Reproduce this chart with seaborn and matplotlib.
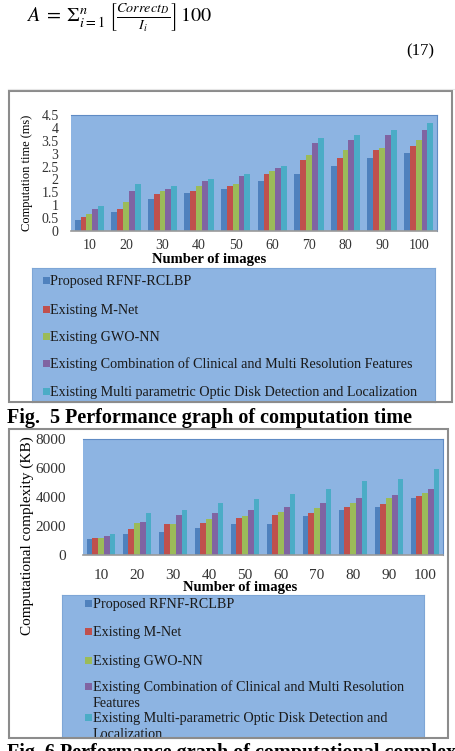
import pandas as pd
import seaborn as sns
import matplotlib
import matplotlib.pyplot as plt
from matplotlib.patches import Rectangle
from matplotlib.lines import Line2D
from matplotlib.ticker import FuncFormatter

matplotlib.use('agg')

# ---- data ----
images = ['10', '20', '30', '40', '50', '60', '70', '80', '90', '100']

methods_time = [
    'Proposed RFNF-RCLBP',
    'Existing M-Net',
    'Existing GWO-NN',
    'Existing Combination of Clinical and Multi Resolution Features',
    'Existing Multi parametric Optic Disk Detection and Localization',
]
methods_cplx = [
    'Proposed RFNF-RCLBP',
    'Existing M-Net',
    'Existing GWO-NN',
    'Existing Combination of Clinical and Multi Resolution\nFeatures',
    'Existing Multi-parametric Optic Disk Detection and\nLocalization',
]

# computation time (ms)
time_rfnf = [0.43, 0.74, 1.26, 1.49, 1.63, 1.95, 2.22, 2.53, 2.84, 3.04]
time_mnet = [0.54, 0.86, 1.44, 1.57, 1.74, 2.22, 2.74, 2.84, 3.13, 3.31]
time_gwo = [0.65, 1.12, 1.57, 1.74, 1.83, 2.33, 2.96, 3.13, 3.23, 3.53]
time_clin = [0.86, 1.56, 1.63, 1.95, 2.14, 2.45, 3.42, 3.53, 3.74, 3.92]
time_optic = [0.97, 1.82, 1.74, 2.02, 2.20, 2.53, 3.61, 3.74, 3.93, 4.20]

# computational complexity (KB)
cplx_rfnf = [1070, 1420, 1610, 1840, 2120, 2170, 2680, 3100, 3290, 3920]
cplx_mnet = [1140, 1770, 2120, 2190, 2540, 2730, 2870, 3290, 3520, 4080]
cplx_gwo = [1190, 2190, 2150, 2450, 2700, 2980, 3220, 3570, 3920, 4290]
cplx_clin = [1280, 2260, 2730, 2870, 3100, 3290, 3570, 3920, 4130, 4550]
cplx_optic = [1420, 2890, 3100, 3590, 3850, 4220, 4550, 5130, 5250, 5900]

colors = ['#4F81BD', '#C0504D', '#9BBB59', '#8064A2', '#4BACC6']
bg = '#8DB4E2'

plt.rcParams['font.family'] = ['Liberation Serif', 'DejaVu Serif']
plt.rcParams['mathtext.fontset'] = 'stix'

W, H = 455, 751


def fx(px):
    return px / W


def fy(py):
    return 1 - py / H


def to_long(series, names):
    rows = []
    for name, vals in zip(names, series):
        for img, v in zip(images, vals):
            rows.append({'Images': img, 'Method': name, 'Value': v})
    return pd.DataFrame(rows)


def draw_bars(ax, df, names, ymax, yticks, ticksize, xpad, ypad):
    sns.barplot(data=df, x='Images', y='Value', hue='Method', hue_order=names,
                order=images, palette=colors, saturation=1, width=0.8,
                linewidth=0, legend=False, ax=ax)
    ax.set_facecolor(bg)
    ax.set_ylim(0, ymax)
    ax.set_yticks(yticks)
    ax.yaxis.set_major_formatter(FuncFormatter(lambda v, p: f'{v:g}'))
    ax.set_xlabel('')
    ax.set_ylabel('')
    ax.tick_params(length=0, labelsize=ticksize, colors='#333333')
    ax.tick_params(axis='x', pad=xpad)
    ax.tick_params(axis='y', pad=ypad)
    for s in ['top', 'right']:
        ax.spines[s].set_color('#5f8bc4')
        ax.spines[s].set_linewidth(0.8)
    ax.spines['left'].set_visible(False)
    ax.spines['bottom'].set_color('#9a9a9a')
    ax.spines['bottom'].set_linewidth(1.2)


def draw_legend(box, names, rows, sq_x, txt_x, fontsize, line_px):
    # box = (left, top, right, bottom) in pixels; rows = entry centres in pixels
    left, top, right, bottom = box
    ax = fig.add_axes([fx(left), fy(bottom), fx(right) - fx(left), fy(top) - fy(bottom)])
    ax.set_facecolor(bg)
    ax.set_xticks([])
    ax.set_yticks([])
    for s in ax.spines.values():
        s.set_color('#7ea6d6')
        s.set_linewidth(0.8)
    bw, bh = right - left, bottom - top
    fs_px = fontsize * 100 / 72
    for name, c, r in zip(names, colors, rows):
        ax.add_patch(Rectangle(((sq_x - left) / bw, 1 - (r + 3.5 - top) / bh),
                               7 / bw, 7 / bh, transform=ax.transAxes, color=c, lw=0))
        for i, line in enumerate(name.split('\n')):
            base = r + 0.33 * fs_px + i * line_px
            ax.text((txt_x - left) / bw, 1 - (base - top) / bh, line,
                    transform=ax.transAxes, va='baseline', ha='left',
                    fontsize=fontsize, color='#1a1a1a')
    return ax


fig = plt.figure(figsize=(W / 100, H / 100), dpi=100)

# equation (17)
fig.text(fx(26), fy(18),
         r'$A\;=\;\Sigma_{i=1}^{n}\;\left[\frac{Correct_D}{I_i}\right]\,100$',
         fontsize=14.5, va='center', ha='left')
fig.text(fx(406), fy(51), '(17)', fontsize=12, va='center', ha='left')
fig.add_artist(Line2D([fx(8), fx(455)], [fy(89), fy(89)], color='#e6e6e6', lw=0.8))

# ---- Fig. 5 ----
fig.add_artist(Rectangle((fx(9), fy(402)), fx(452) - fx(9), fy(91) - fy(402),
                         transform=fig.transFigure, fill=False, ec='#8c8c8c', lw=1.5))
ax1 = fig.add_axes([fx(71), fy(231), fx(437) - fx(71), fy(115) - fy(231)])
draw_bars(ax1, to_long([time_rfnf, time_mnet, time_gwo, time_clin, time_optic], methods_time),
          methods_time, 4.5, [0, 0.5, 1, 1.5, 2, 2.5, 3, 3.5, 4, 4.5], 10, 6, 9)
fig.text(fx(27), fy(173), 'Computation time (ms)', rotation=90, fontsize=9,
         va='center', ha='center')
fig.text(fx(209), fy(259), 'Number of images', fontsize=10.5, fontweight='bold',
         va='center', ha='center')

draw_legend((32, 268, 435, 402), methods_time, [280, 309, 336, 363, 391],
            43, 50, 10.2, 17)

fig.text(fx(7), fy(418), 'Fig.  5 Performance graph of computation time', fontsize=14.5,
         fontweight='bold', va='center', ha='left')

# ---- Fig. 6 ----
fig.add_artist(Rectangle((fx(9), fy(738)), fx(448) - fx(9), fy(429) - fy(738),
                         transform=fig.transFigure, fill=False, ec='#8c8c8c', lw=1.5))
ax2 = fig.add_axes([fx(83), fy(555), fx(443) - fx(83), fy(439) - fy(555)])
draw_bars(ax2, to_long([cplx_rfnf, cplx_mnet, cplx_gwo, cplx_clin, cplx_optic], methods_cplx),
          methods_cplx, 8000, [0, 2000, 4000, 6000, 8000], 11, 10, 12)
fig.text(fx(27), fy(536), 'Computational complexity (KB)', rotation=90, fontsize=11,
         va='center', ha='center')
fig.text(fx(240), fy(587), 'Number of images', fontsize=10.5, fontweight='bold',
         va='center', ha='center')

draw_legend((62, 595, 424, 738), methods_cplx, [603, 631, 660, 686, 717],
            85, 93, 10.2, 16)

fig.text(fx(7), fy(743), 'Fig. 6 Performance graph of computational complexity', fontsize=14.5,
         fontweight='bold', va='top', ha='left')

fig.savefig('out.png', dpi=100, facecolor='white')
plt.close()
